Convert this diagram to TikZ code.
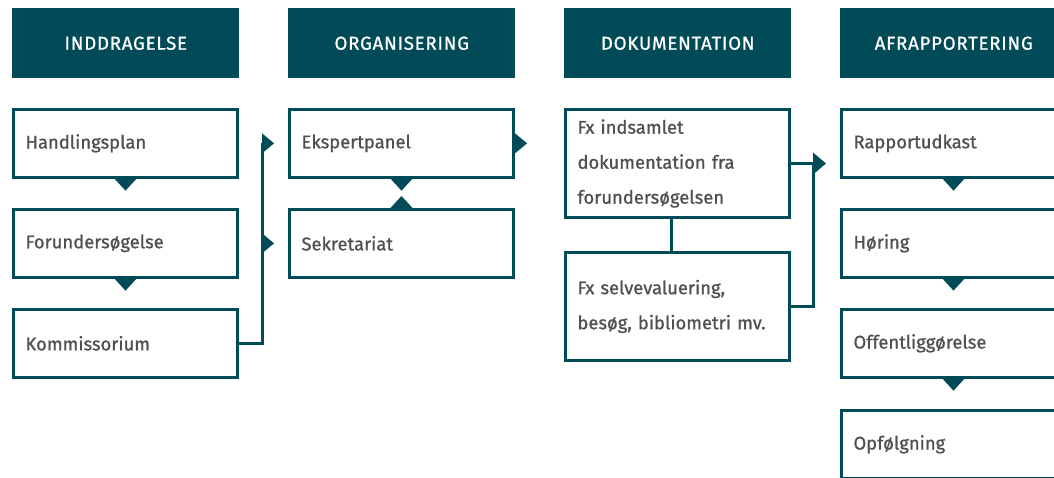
\documentclass[tikz,border=0pt]{standalone}
\usepackage{fontspec}
\setmainfont{Fira Sans}[UprightFeatures={FakeBold=0.9}]
\usepackage{xcolor}
\definecolor{petrol}{RGB}{0,75,87}
\definecolor{boxtext}{RGB}{80,80,80}

\begin{document}
\begin{tikzpicture}[x=0.75pt,y=-0.75pt,
      header/.style={fill=petrol, text=white, anchor=north west, inner sep=0pt,
        minimum width=170.25pt, minimum height=52.5pt,
        font={\fontsize{14}{16}\selectfont\addfontfeatures{LetterSpace=4}}},
      stepbox/.style={draw=petrol, line width=2.25pt, fill=white, text=boxtext, anchor=north west,
        minimum width=168pt, minimum height=50.75pt, text width=150pt, align=left,
        inner xsep=8.6pt, font={\fontsize{13.8}{26.25}\selectfont}},
      tallbox/.style={stepbox, minimum height=81pt},
      link/.style={draw=petrol, line width=2.25pt},
      marker/.style={fill=petrol}]

    \useasboundingbox (0,0) rectangle (1054,478);
    \clip (0,0) rectangle (1054,478);

    %draw headers
    \node[header] (hInd) at (12,8)  {INDDRAGELSE};
    \node[header] (hOrg) at (288,8) {ORGANISERING};
    \node[header] (hDok) at (564,8) {DOKUMENTATION};
    \node[header] (hAfr) at (840,8) {AFRAPPORTERING};

    %draw inddragelse
    \node[stepbox] (hp)  at (12,108) {Handlingsplan};
    \node[stepbox] (fu)  at (12,208) {Forundersøgelse};
    \node[stepbox] (kom) at (12,308) {Kommissorium};

    %draw organisering
    \node[stepbox] (ekp) at (288,108) {Ekspertpanel};
    \node[stepbox] (sek) at (288,208) {Sekretariat};

    %draw dokumentation
    \node[tallbox] (d1) at (564,108) {Fx indsamlet\\dokumentation fra\\forundersøgelsen};
    \node[tallbox] (d2) at (564,251) {Fx selvevaluering,\\besøg, bibliometri mv.};

    %draw afrapportering
    \node[stepbox] (ru) at (840,108) {Rapportudkast};
    \node[stepbox] (hr) at (840,208) {Høring};
    \node[stepbox] (of) at (840,308) {Offentliggørelse};
    \node[stepbox] (op) at (840,409) {Opfølgning};

    %draw connectors
    \coordinate (bus1) at (262,0);
    \coordinate (bus3) at (813,0);
    \draw[link] (kom.east) -- (kom.east -| bus1) -- (ekp.west -| bus1);
    \draw[link] ([xshift=-4.5pt]d1.south) -- ([xshift=-4.5pt]d1.south |- d2.north);
    \draw[link] (d1.east) -- (d1.east -| bus3) -- (d2.east -| bus3) -- (d2.east);

    %draw down markers
    \foreach \n in {hp, fu, ekp, ru, hr, of}{
      \fill[marker] (\n.south) ++(-11,0) -- ++(22,0) -- ++(-11,12) -- cycle;
    }
    \fill[marker] (sek.north) ++(-11,0) -- ++(22,0) -- ++(-11,-12) -- cycle;

    %draw right markers
    \fill[marker] (ekp.west -| bus1) ++(0,-10) -- ++(12,10) -- ++(-12,10) -- cycle;
    \fill[marker] (sek.west -| bus1) ++(0,-10) -- ++(12,10) -- ++(-12,10) -- cycle;
    \fill[marker] (ekp.east) ++(0,-10) -- ++(12,10) -- ++(-12,10) -- cycle;
    \fill[marker] (d1.east -| bus3) ++(0,-11) -- ++(13,11) -- ++(-13,11) -- cycle;

  \end{tikzpicture}
\end{document}
